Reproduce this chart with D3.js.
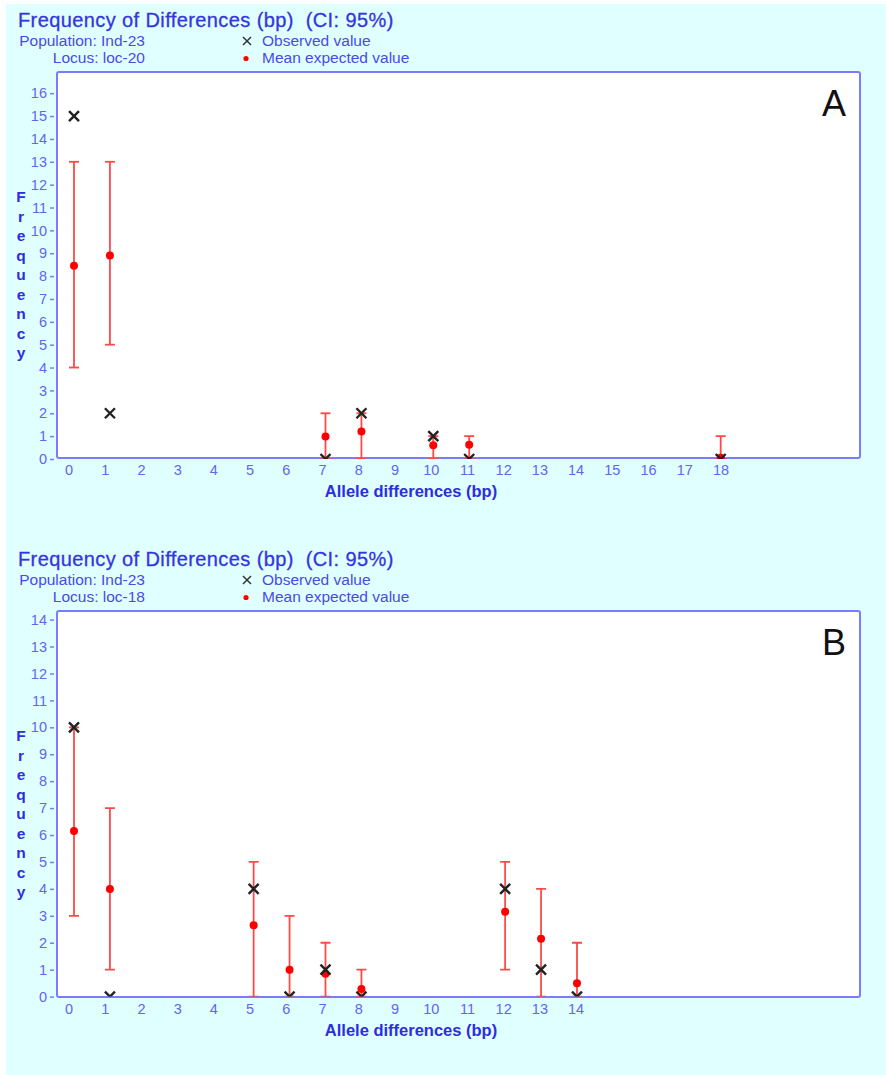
<!DOCTYPE html>
<html>
<head>
<meta charset="utf-8">
<script src="https://cdn.jsdelivr.net/npm/d3@7"></script>
<style>
  body { margin: 0; background: #fff; }
  svg { display: block; font-family: "Liberation Sans", Arial, sans-serif; }
  .pre { white-space: pre; }
</style>
</head>
<body>
<svg id="chart" width="886" height="1075"></svg>
<script>
// panel A - locus loc-20
var diffsA = [0, 1, 7, 8, 10, 11, 18];
var obsA   = [15, 2, 0, 2, 1, 0, 0];
var meanA  = [8.45, 8.9, 0.98, 1.2, 0.6, 0.62, 0.05];
var loA    = [4, 5, 0, 0, 0, 0, 0];
var hiA    = [13, 13, 2, 2, 1, 1, 1];
var xTicksA = [0, 1, 2, 3, 4, 5, 6, 7, 8, 9, 10, 11, 12, 13, 14, 15, 16, 17, 18];
var yTicksA = [0, 1, 2, 3, 4, 5, 6, 7, 8, 9, 10, 11, 12, 13, 14, 15, 16];

// panel B - locus loc-18
var diffsB = [0, 1, 5, 6, 7, 8, 12, 13, 14];
var obsB   = [10, 0, 4, 0, 1, 0, 4, 1, 0];
var meanB  = [6.15, 4, 2.65, 1, 0.85, 0.28, 3.15, 2.15, 0.5];
var loB    = [3, 1, 0, 0, 0, 0, 1, 0, 0];
var hiB    = [10, 7, 5, 3, 2, 1, 5, 4, 2];
var xTicksB = [0, 1, 2, 3, 4, 5, 6, 7, 8, 9, 10, 11, 12, 13, 14];
var yTicksB = [0, 1, 2, 3, 4, 5, 6, 7, 8, 9, 10, 11, 12, 13, 14];

var blue = "#7b7bff", txtBlue = "#3535de", red = "#ff4848";
var L = 57, R = 860, T = 72, B = 458;

var svg = d3.select("#chart");
svg.append("rect").attr("x", 6).attr("y", 4).attr("width", 880).attr("height", 1071).attr("fill", "#e0ffff");

function panel(id, dy, locus, letter, diffs, obs, mean, lo, hi, xTicks, yTicks, yTop, yZero) {
  var g = svg.append("g").attr("transform", "translate(0," + dy + ")");

  var x = d3.scaleLinear().domain([0, 18]).range([74, 720.7]);
  var xLab = d3.scaleLinear().domain([0, 18]).range([68.5, 720.5]);
  var y = d3.scaleLinear().domain([0, yTicks[yTicks.length - 1]]).range([yZero, yTop]);

  // header
  g.append("text").attr("class", "pre").attr("x", 18).attr("y", 27).attr("font-size", 20).attr("letter-spacing", 0.4)
    .attr("stroke", txtBlue).attr("stroke-width", 0.3)
    .attr("fill", txtBlue).text("Frequency of Differences (bp)  (CI: 95%)");
  g.append("text").attr("x", 145).attr("y", 46).attr("text-anchor", "end").attr("font-size", 15.5)
    .attr("fill", "#4a4ae6").text("Population: Ind-23");
  g.append("text").attr("x", 145).attr("y", 63).attr("text-anchor", "end").attr("font-size", 15.5)
    .attr("fill", "#4a4ae6").text("Locus: " + locus);
  g.append("path").attr("d", "M243,37L251,45M251,37L243,45").attr("stroke", "#333").attr("stroke-width", 1.5);
  g.append("text").attr("x", 262).attr("y", 46).attr("font-size", 15.5).attr("fill", "#4a4ae6").text("Observed value");
  g.append("circle").attr("cx", 246).attr("cy", 58.5).attr("r", 2.6).attr("fill", "#f00");
  g.append("text").attr("x", 262).attr("y", 63).attr("font-size", 15.5).attr("fill", "#4a4ae6").text("Mean expected value");

  // plot frame
  g.append("rect").attr("x", L).attr("y", T).attr("width", R - L).attr("height", B - T)
    .attr("rx", 2).attr("fill", "#fff").attr("stroke", blue).attr("stroke-width", 2);

  g.append("text").attr("x", 846).attr("y", 116).attr("text-anchor", "end").attr("font-size", 36)
    .attr("fill", "#111").text(letter);

  // y axis: ticks sit left of the frame
  var yAxis = d3.axisLeft(y).tickValues(yTicks).tickSize(4).tickPadding(3);
  var ya = g.append("g").attr("transform", "translate(" + (L - 3) + ",0)").call(yAxis);
  ya.select(".domain").remove();
  ya.selectAll("line").attr("stroke", blue).attr("stroke-width", 1.5);
  ya.selectAll("text").attr("fill", "#6464f0").attr("font-size", 14.5).attr("font-family", "Liberation Sans, Arial");

  // x labels only
  var xAxis = d3.axisBottom(xLab).tickValues(xTicks).tickSize(0).tickPadding(7).tickFormat(d3.format("d"));
  var xa = g.append("g").attr("transform", "translate(0," + B + ")").call(xAxis);
  xa.select(".domain").remove();
  xa.selectAll("text").attr("fill", "#6464f0").attr("font-size", 14.5).attr("font-family", "Liberation Sans, Arial");

  g.append("text").attr("x", 411).attr("y", 497).attr("text-anchor", "middle").attr("font-size", 16.5)
    .attr("font-weight", "bold").attr("fill", "#2d2de0").text("Allele differences (bp)");

  var word = "Frequency".split("");
  var yMid = (T + B) / 2 + 9;
  g.append("g").selectAll("text").data(word).join("text")
    .attr("x", 21).attr("y", function (d, i) { return yMid - 72 + i * 19.5; })
    .attr("text-anchor", "middle").attr("font-size", 15.5).attr("font-weight", "bold")
    .attr("fill", "#2d2de0").text(function (d) { return d; });

  // marks, clipped to plot area
  g.append("clipPath").attr("id", id).append("rect").attr("x", L).attr("y", T).attr("width", R - L).attr("height", yZero - T);
  var m = g.append("g").attr("clip-path", "url(#" + id + ")");
  var rows = diffs.map(function (d, i) { return { d: d, o: obs[i], m: mean[i], lo: lo[i], hi: hi[i] }; });

  m.selectAll(".bar").data(rows).join("line").attr("class", "bar")
    .attr("x1", function (r) { return x(r.d); }).attr("x2", function (r) { return x(r.d); })
    .attr("y1", function (r) { return y(r.lo); }).attr("y2", function (r) { return y(r.hi); })
    .attr("stroke", red).attr("stroke-width", 1.8);
  m.selectAll(".capLo").data(rows).join("line").attr("class", "capLo")
    .attr("x1", function (r) { return x(r.d) - 5; }).attr("x2", function (r) { return x(r.d) + 5; })
    .attr("y1", function (r) { return y(r.lo); }).attr("y2", function (r) { return y(r.lo); })
    .attr("stroke", red).attr("stroke-width", 1.8);
  m.selectAll(".capHi").data(rows).join("line").attr("class", "capHi")
    .attr("x1", function (r) { return x(r.d) - 5; }).attr("x2", function (r) { return x(r.d) + 5; })
    .attr("y1", function (r) { return y(r.hi); }).attr("y2", function (r) { return y(r.hi); })
    .attr("stroke", red).attr("stroke-width", 1.8);
  m.selectAll(".mean").data(rows).join("circle").attr("class", "mean")
    .attr("cx", function (r) { return x(r.d); }).attr("cy", function (r) { return y(r.m); })
    .attr("r", 4).attr("fill", "#f00");
  m.selectAll(".obs").data(rows).join("path").attr("class", "obs")
    .attr("d", function (r) {
      var cx = x(r.d), cy = y(r.o), s = 5;
      return "M" + (cx - s) + "," + (cy - s) + "L" + (cx + s) + "," + (cy + s) +
             "M" + (cx + s) + "," + (cy - s) + "L" + (cx - s) + "," + (cy + s);
    })
    .attr("stroke", "#222").attr("stroke-width", 2.4);
}

panel("clipA", 0, "loc-20", "A", diffsA, obsA, meanA, loA, hiA, xTicksA, yTicksA, 93.2, 459);
panel("clipB", 539, "loc-18", "B", diffsB, obsB, meanB, loB, hiB, xTicksB, yTicksB, 80.6, 457.6);
</script>
</body>
</html>
